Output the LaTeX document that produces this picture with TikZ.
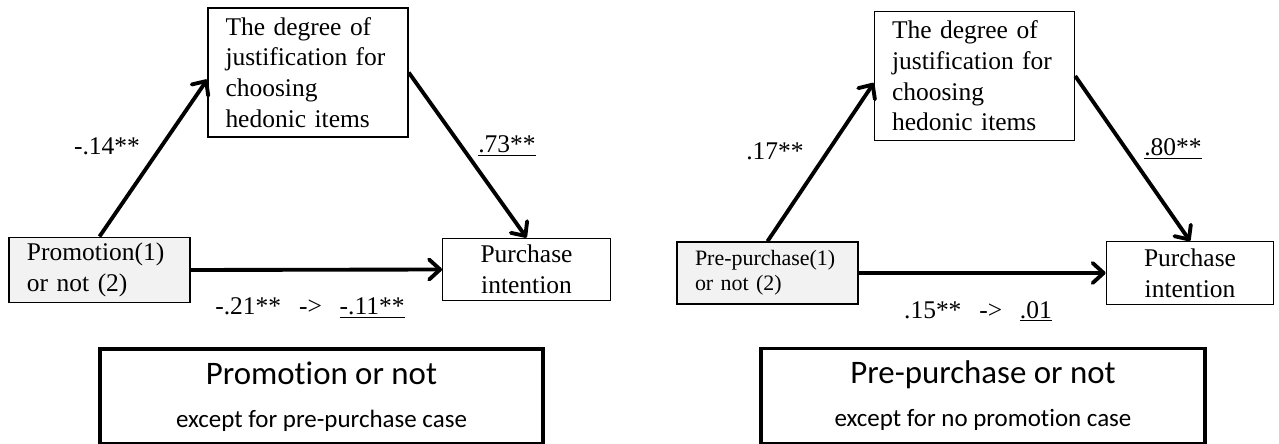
\documentclass[tikz,border=0pt]{standalone}
\usepackage{fontspec}
\setmainfont{Liberation Serif}
\newfontfamily\calibri[Ligatures=NoCommon]{Carlito}
\usetikzlibrary{arrows.meta}
\definecolor{boxgray}{RGB}{242,242,242}

\begin{document}
\begin{tikzpicture}[font=\fontsize{14.5}{17.5}\selectfont,
	medbox/.style={draw, line width=0.8pt, text width=3.3cm, align=left, inner xsep=0.35cm, minimum height=2.58cm},
	ivbox/.style={draw, line width=0.8pt, fill=boxgray, text width=2.9cm, align=left, inner xsep=0.36cm, minimum height=1.24cm},
	dvbox/.style={draw, line width=0.8pt, align=center, minimum width=3.35cm, minimum height=1.25cm},
	notebox/.style={draw, line width=2pt, align=center, minimum height=1.9cm},
	effect/.style={line width=2.2pt, -{Straight Barb[length=2.2mm, width=4mm, round]}},
	coef/.style={anchor=base}]
	\useasboundingbox (0,0) rectangle (25.58,8.86);
	%\draw[help lines] (0,0) grid (26,9);

	% promotion or not
	\node[medbox] (med1) at (6.16,7.41) {The degree of\\justification for\\choosing\\hedonic items};
	\node[ivbox] (iv1) at (1.99,3.46) {Promotion(1)\\or not (2)};
	\node[dvbox] (dv1) at (10.53,3.47) {Purchase\\intention};
	\draw[effect] (iv1.north) -- ([yshift=-0.14cm]med1.west);
	\draw[effect] (med1.east) -- (dv1.north);
	\draw[effect] (iv1.east) -- (dv1.west);
	\node[coef] (a1) at (2.14,5.76) {-.14**};
	\node[coef] (b1) at (10.14,5.80) {\underline{.73**}};
	\node[coef] (c1) at (6.20,2.56) {-.21**\hspace{0.7em}->\hspace{0.7em}\underline{-.11**}};
	\node[notebox, minimum width=8.86cm] (note1) at (6.43,0.93)
		{{\calibri\fontsize{18.7}{22}\selectfont Promotion or not}\\[7pt]{\calibri\fontsize{14.2}{17}\selectfont except for pre-purchase case}};

	% pre-purchase or not
	\node[medbox] (med2) at (19.49,7.34) {The degree of\\justification for\\choosing\\hedonic items};
	\node[ivbox, font=\fontsize{12.5}{14.2}\selectfont] (iv2) at (15.35,3.40) {Pre-purchase(1)\\or not (2)};
	\node[dvbox] (dv2) at (23.80,3.40) {Purchase\\intention};
	\draw[effect] (iv2.north) -- ([yshift=-0.14cm]med2.west);
	\draw[effect] (med2.east) -- (dv2.north);
	\draw[effect] (iv2.east) -- (dv2.west);
	\node[coef] (a2) at (15.50,5.66) {.17**};
	\node[coef] (b2) at (23.46,5.74) {\underline{.80**}};
	\node[coef] (c2) at (19.56,2.50) {.15**\hspace{0.7em}->\hspace{0.7em}\underline{.01}};
	\node[notebox, minimum width=8.88cm] (note2) at (19.66,0.94)
		{{\calibri\fontsize{18.7}{22}\selectfont Pre-purchase or not}\\[7pt]{\calibri\fontsize{14.2}{17}\selectfont except for no promotion case}};
\end{tikzpicture}
\end{document}
